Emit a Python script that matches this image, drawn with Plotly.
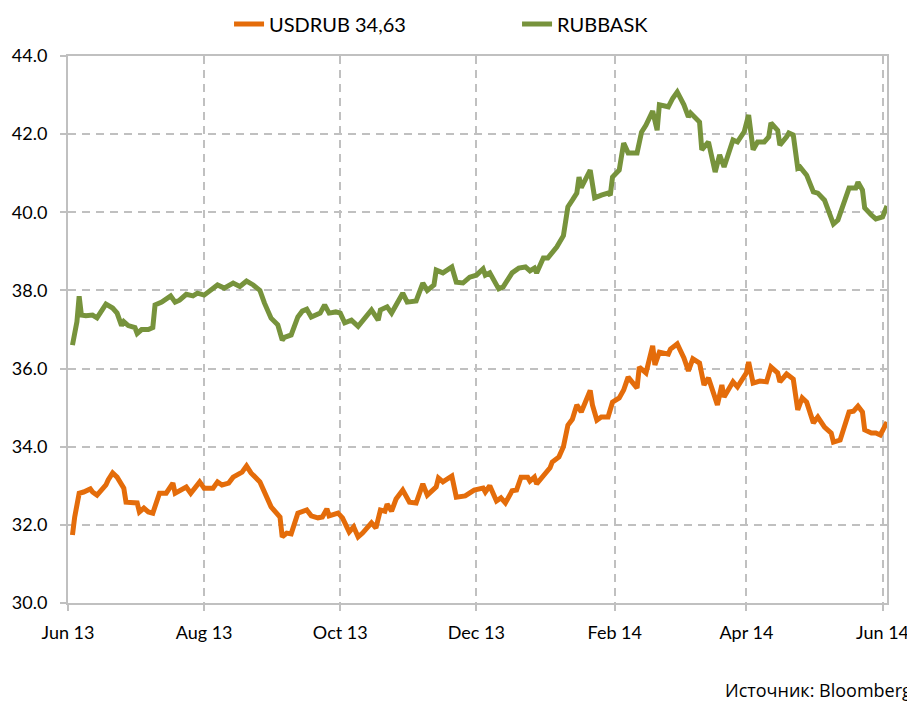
import plotly.graph_objects as go

# RUBBASK (green)
rubbask_dates = [
    "2013-06-03", "2013-06-05", "2013-06-06", "2013-06-07", "2013-06-09", "2013-06-12", "2013-06-14",
    "2013-06-15", "2013-06-18", "2013-06-21", "2013-06-23", "2013-06-25", "2013-06-26", "2013-06-28",
    "2013-07-01", "2013-07-02", "2013-07-04", "2013-07-07", "2013-07-09", "2013-07-10", "2013-07-13",
    "2013-07-17", "2013-07-19", "2013-07-21", "2013-07-24", "2013-07-27", "2013-07-29", "2013-08-01",
    "2013-08-07", "2013-08-10", "2013-08-14", "2013-08-17", "2013-08-20", "2013-08-23", "2013-08-26",
    "2013-08-28", "2013-08-31", "2013-09-03", "2013-09-05", "2013-09-06", "2013-09-09", "2013-09-12",
    "2013-09-14", "2013-09-16", "2013-09-18", "2013-09-22", "2013-09-24", "2013-09-26", "2013-09-29",
    "2013-10-01", "2013-10-03", "2013-10-06", "2013-10-09", "2013-10-15", "2013-10-18", "2013-10-19",
    "2013-10-22", "2013-10-24", "2013-10-29", "2013-10-31", "2013-11-04", "2013-11-07", "2013-11-09",
    "2013-11-12", "2013-11-13", "2013-11-16", "2013-11-20", "2013-11-22", "2013-11-25", "2013-11-28",
    "2013-12-01", "2013-12-04", "2013-12-05", "2013-12-07", "2013-12-11", "2013-12-13", "2013-12-17",
    "2013-12-20", "2013-12-23", "2013-12-25", "2013-12-27", "2013-12-28", "2013-12-31", "2014-01-02",
    "2014-01-06", "2014-01-09", "2014-01-11", "2014-01-13", "2014-01-15", "2014-01-16", "2014-01-17",
    "2014-01-21", "2014-01-23", "2014-01-26", "2014-01-29", "2014-01-30", "2014-01-31", "2014-02-03",
    "2014-02-05", "2014-02-07", "2014-02-11", "2014-02-13", "2014-02-15", "2014-02-18", "2014-02-20",
    "2014-02-21", "2014-02-25", "2014-02-27", "2014-03-01", "2014-03-04", "2014-03-06", "2014-03-07",
    "2014-03-11", "2014-03-12", "2014-03-15", "2014-03-18", "2014-03-20", "2014-03-22", "2014-03-26",
    "2014-03-28", "2014-03-31", "2014-04-02", "2014-04-04", "2014-04-06", "2014-04-09", "2014-04-11",
    "2014-04-12", "2014-04-15", "2014-04-16", "2014-04-19", "2014-04-20", "2014-04-22", "2014-04-24",
    "2014-04-25", "2014-04-28", "2014-05-01", "2014-05-03", "2014-05-06", "2014-05-08", "2014-05-10",
    "2014-05-12", "2014-05-14", "2014-05-17", "2014-05-20", "2014-05-21", "2014-05-23", "2014-05-24",
    "2014-05-27", "2014-05-29", "2014-06-01", "2014-06-03",
]
rubbask_values = [
    36.60, 37.20, 37.85, 37.37, 37.35, 37.37, 37.30,
    37.40, 37.65, 37.55, 37.42, 37.10, 37.20, 37.10,
    37.05, 36.90, 37.00, 37.00, 37.05, 37.63, 37.70,
    37.86, 37.70, 37.75, 37.90, 37.86, 37.93, 37.88,
    38.14, 38.06, 38.19, 38.10, 38.24, 38.14, 38.00,
    37.68, 37.29, 37.12, 36.73, 36.80, 36.86, 37.32,
    37.47, 37.52, 37.32, 37.42, 37.63, 37.42, 37.45,
    37.42, 37.17, 37.24, 37.08, 37.50, 37.24, 37.50,
    37.58, 37.42, 37.93, 37.70, 37.73, 38.19, 38.00,
    38.14, 38.52, 38.45, 38.60, 38.21, 38.19, 38.34,
    38.39, 38.55, 38.39, 38.45, 38.04, 38.09, 38.45,
    38.57, 38.60, 38.50, 38.57, 38.45, 38.83, 38.83,
    39.11, 39.40, 40.14, 40.31, 40.49, 40.90, 40.63,
    41.08, 40.37, 40.44, 40.49, 40.44, 40.90, 41.08,
    41.77, 41.52, 41.52, 42.05, 42.23, 42.59, 42.10,
    42.75, 42.70, 42.92, 43.08, 42.75, 42.44, 42.54,
    42.31, 41.60, 41.80, 41.03, 41.47, 41.16, 41.85,
    41.80, 42.06, 42.49, 41.60, 41.80, 41.80, 41.93,
    42.29, 42.10, 41.72, 41.93, 42.03, 41.98, 41.13,
    41.16, 40.95, 40.52, 40.49, 40.31, 39.98, 39.70,
    39.80, 40.11, 40.62, 40.62, 40.77, 40.57, 40.11,
    39.93, 39.83, 39.88, 40.16,
]

# USDRUB (orange)
usdrub_dates = [
    "2013-06-03", "2013-06-04", "2013-06-06", "2013-06-08", "2013-06-11", "2013-06-12", "2013-06-14",
    "2013-06-16", "2013-06-18", "2013-06-19", "2013-06-21", "2013-06-23", "2013-06-26", "2013-06-27",
    "2013-06-30", "2013-07-02", "2013-07-03", "2013-07-05", "2013-07-07", "2013-07-09", "2013-07-12",
    "2013-07-15", "2013-07-18", "2013-07-19", "2013-07-24", "2013-07-26", "2013-07-30", "2013-08-01",
    "2013-08-05", "2013-08-07", "2013-08-09", "2013-08-12", "2013-08-14", "2013-08-18", "2013-08-20",
    "2013-08-22", "2013-08-26", "2013-08-28", "2013-08-31", "2013-09-04", "2013-09-05", "2013-09-07",
    "2013-09-09", "2013-09-12", "2013-09-16", "2013-09-18", "2013-09-21", "2013-09-23", "2013-09-25",
    "2013-09-26", "2013-09-30", "2013-10-02", "2013-10-05", "2013-10-07", "2013-10-09", "2013-10-11",
    "2013-10-15", "2013-10-17", "2013-10-19", "2013-10-21", "2013-10-22", "2013-10-24", "2013-10-26",
    "2013-10-29", "2013-11-01", "2013-11-04", "2013-11-07", "2013-11-09", "2013-11-13", "2013-11-14",
    "2013-11-16", "2013-11-20", "2013-11-22", "2013-11-26", "2013-11-30", "2013-12-04", "2013-12-05",
    "2013-12-07", "2013-12-10", "2013-12-12", "2013-12-14", "2013-12-17", "2013-12-19", "2013-12-21",
    "2013-12-24", "2013-12-25", "2013-12-27", "2013-12-28", "2013-12-31", "2014-01-03", "2014-01-04",
    "2014-01-07", "2014-01-09", "2014-01-11", "2014-01-13", "2014-01-15", "2014-01-17", "2014-01-21",
    "2014-01-22", "2014-01-24", "2014-01-26", "2014-01-29", "2014-01-31", "2014-02-03", "2014-02-05",
    "2014-02-07", "2014-02-11", "2014-02-12", "2014-02-15", "2014-02-18", "2014-02-19", "2014-02-21",
    "2014-02-25", "2014-02-26", "2014-03-01", "2014-03-04", "2014-03-06", "2014-03-08", "2014-03-11",
    "2014-03-13", "2014-03-15", "2014-03-19", "2014-03-21", "2014-03-22", "2014-03-26", "2014-03-28",
    "2014-04-01", "2014-04-02", "2014-04-04", "2014-04-07", "2014-04-10", "2014-04-12", "2014-04-15",
    "2014-04-16", "2014-04-19", "2014-04-22", "2014-04-24", "2014-04-26", "2014-04-28", "2014-05-01",
    "2014-05-03", "2014-05-06", "2014-05-09", "2014-05-10", "2014-05-13", "2014-05-15", "2014-05-17",
    "2014-05-19", "2014-05-21", "2014-05-23", "2014-05-24", "2014-05-27", "2014-05-29", "2014-05-31",
    "2014-06-03",
]
usdrub_values = [
    31.74, 32.20, 32.81, 32.84, 32.92, 32.84, 32.76,
    32.89, 33.02, 33.15, 33.33, 33.22, 32.94, 32.58,
    32.58, 32.56, 32.33, 32.43, 32.33, 32.30, 32.81,
    32.81, 33.07, 32.81, 32.97, 32.81, 33.10, 32.94,
    32.94, 33.10, 33.02, 33.07, 33.22, 33.35, 33.51,
    33.33, 33.10, 32.81, 32.46, 32.20, 31.69, 31.79,
    31.77, 32.30, 32.38, 32.23, 32.18, 32.20, 32.41,
    32.23, 32.30, 32.18, 31.82, 31.95, 31.69, 31.79,
    32.05, 31.92, 32.38, 32.35, 32.53, 32.35, 32.66,
    32.89, 32.58, 32.56, 33.05, 32.76, 32.97, 33.20,
    33.10, 33.25, 32.71, 32.74, 32.89, 32.94, 32.84,
    33.00, 32.61, 32.69, 32.56, 32.87, 32.89, 33.22,
    33.22, 33.12, 33.22, 33.05, 33.28, 33.46, 33.61,
    33.74, 34.00, 34.55, 34.70, 35.07, 34.89, 35.44,
    35.07, 34.68, 34.76, 34.76, 35.14, 35.25, 35.45,
    35.78, 35.50, 36.04, 35.89, 36.58, 36.09, 36.42,
    36.37, 36.50, 36.63, 36.27, 35.94, 36.25, 36.14,
    35.58, 35.76, 35.07, 35.58, 35.27, 35.66, 35.53,
    35.89, 36.17, 35.63, 35.68, 35.66, 36.04, 35.89,
    35.66, 35.86, 35.73, 34.94, 35.25, 35.14, 34.61,
    34.76, 34.50, 34.35, 34.12, 34.17, 34.50, 34.89,
    34.91, 35.04, 34.89, 34.43, 34.35, 34.35, 34.30,
    34.63,
]

series_names = ["USDRUB 34,63", "RUBBASK"]
x_tick_dates = ["2013-06-01", "2013-08-01", "2013-10-01", "2013-12-01",
                "2014-02-01", "2014-04-01", "2014-06-01"]
x_tick_labels = ["Jun 13", "Aug 13", "Oct 13", "Dec 13", "Feb 14", "Apr 14", "Jun 14"]
y_ticks = [30, 32, 34, 36, 38, 40, 42, 44]
source_text = "Источник: Bloomberg"

FONT = "Lato"
GRID = "#C0C0C0"

fig = go.Figure()
fig.add_trace(go.Scatter(x=usdrub_dates, y=usdrub_values, mode="lines",
                         name=series_names[0],
                         line=dict(color="#E46C0A", width=5)))
fig.add_trace(go.Scatter(x=rubbask_dates, y=rubbask_values, mode="lines",
                         name=series_names[1],
                         line=dict(color="#77933C", width=5)))

# the page has an 8px body margin, so the figure is sized to end at the window edge
fig.update_layout(
    width=907, height=694,
    margin=dict(l=60, r=28, t=48, b=99, autoexpand=False),
    paper_bgcolor="white", plot_bgcolor="white",
    font=dict(family=FONT, size=18, color="#000000"),
    showlegend=True,
    legend=dict(orientation="h", xref="container", yref="container",
                x=0.2437, xanchor="left", y=0.977, yanchor="middle",
                font=dict(family=FONT, size=20, color="#000000"),
                entrywidth=243, entrywidthmode="pixels",
                itemwidth=30, bgcolor="rgba(0,0,0,0)"),
    xaxis=dict(
        type="date",
        range=["2013-06-01", "2014-06-03"],
        tickvals=x_tick_dates, ticktext=x_tick_labels,
        showgrid=True, gridcolor=GRID, gridwidth=1.5, griddash="8px,6px",
        showline=True, linecolor=GRID, linewidth=2, mirror=True,
        ticks="outside", ticklen=6, tickcolor=GRID, tickwidth=1.5,
        tickfont=dict(family=FONT, size=18, color="#000000"),
        ticklabelstandoff=6,
        zeroline=False, automargin=False,
    ),
    yaxis=dict(
        range=[30, 44],
        tickvals=y_ticks, tickformat=".1f",
        showgrid=True, gridcolor=GRID, gridwidth=1.5, griddash="8px,6px",
        showline=True, linecolor=GRID, linewidth=2, mirror=True,
        ticks="outside", ticklen=6, tickcolor=GRID, tickwidth=1.5,
        tickfont=dict(family=FONT, size=18, color="#000000"),
        ticklabelstandoff=9,
        zeroline=False, automargin=False,
    ),
    annotations=[dict(text=source_text, xref="paper", yref="paper",
                      x=0.800, y=-0.159, xanchor="left", yanchor="middle",
                      showarrow=False,
                      font=dict(family="Open Sans", size=18, color="#000000"))],
)

fig.write_html("out.html")
